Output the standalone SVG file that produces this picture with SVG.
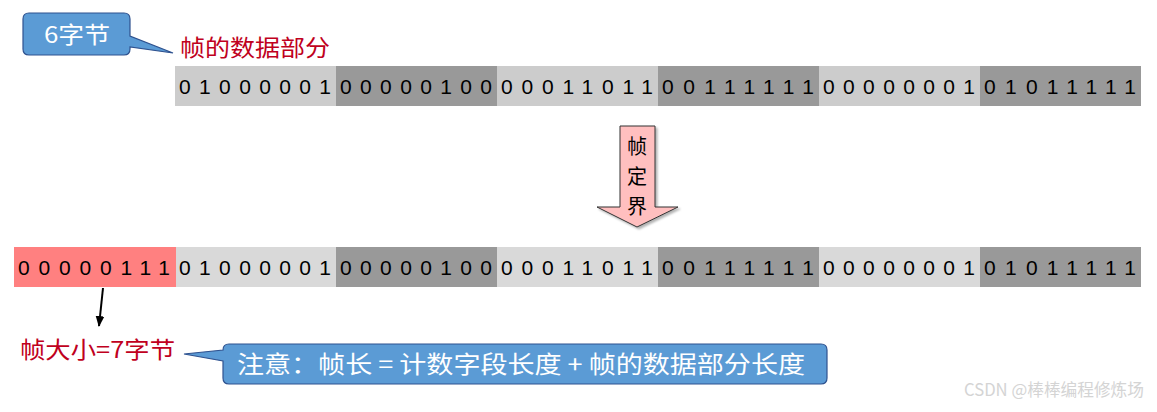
<svg xmlns="http://www.w3.org/2000/svg" width="1157" height="412" viewBox="0 0 1157 412">
<style>
.bits{font-family:"Liberation Sans",Arial,sans-serif;font-size:21px;fill:#000}
.cn{font-family:"Noto Sans CJK SC","Noto Sans",sans-serif}
.red{fill:#c00020;font-size:23px}
.white{fill:#ffffff}
.lt1{fill:#cccccc}
.lt2{fill:#d9d9d9}
.dk{fill:#999999}
.call{fill:#5b9bd5;stroke:#2f528f;stroke-width:1.2}
</style>
<defs>
<marker id="ah" viewBox="0 0 10 10" refX="9" refY="5" markerWidth="11" markerHeight="11" markerUnits="userSpaceOnUse" orient="auto">
<path d="M0,1 L10,5 L0,9 z" fill="#000"/>
</marker>
<filter id="sh" x="-20%" y="-20%" width="140%" height="140%">
<feDropShadow dx="2" dy="2" stdDeviation="1" flood-color="#000" flood-opacity="0.3"/>
</filter>
</defs>

<g id="callout-6bytes">
<path class="call" d="M29,13 H124 Q130,13 130,19 V36 L173,53 L130,47 V49 Q130,55 124,55 H29 Q23,55 23,49 V19 Q23,13 29,13 Z"/>
<text class="cn white" x="77" y="43" font-size="23" text-anchor="middle" textLength="66" lengthAdjust="spacingAndGlyphs">6字节</text>
</g>

<g id="label-data">
<text class="cn red" x="180" y="56" textLength="150" lengthAdjust="spacingAndGlyphs">帧的数据部分</text>
</g>

<g id="top-row">
<rect class="lt1" x="175" y="66" width="161" height="40"/>
<rect class="dk" x="336" y="66" width="161" height="40"/>
<rect class="lt1" x="497" y="66" width="161" height="40"/>
<rect class="dk" x="658" y="66" width="161" height="40"/>
<rect class="lt1" x="819" y="66" width="161" height="40"/>
<rect class="dk" x="980" y="66" width="161" height="40"/>
<text class="bits" x="179" y="94" textLength="152" lengthAdjust="spacing">01000001</text>
<text class="bits" x="340" y="94" textLength="152" lengthAdjust="spacing">00000100</text>
<text class="bits" x="501" y="94" textLength="152" lengthAdjust="spacing">00011011</text>
<text class="bits" x="662" y="94" textLength="152" lengthAdjust="spacing">00111111</text>
<text class="bits" x="823" y="94" textLength="152" lengthAdjust="spacing">00000001</text>
<text class="bits" x="984" y="94" textLength="152" lengthAdjust="spacing">01011111</text>
</g>

<g id="framing-arrow">
<polygon points="620,126 655,126 655,207 678,207 637,227 597,207 620,207" fill="#ffbfbf" stroke="#333" stroke-width="1" filter="url(#sh)"/>
<text class="cn" x="637" y="154" font-size="20" text-anchor="middle" fill="#000">帧</text>
<text class="cn" x="637" y="184" font-size="20" text-anchor="middle" fill="#000">定</text>
<text class="cn" x="637" y="214" font-size="20" text-anchor="middle" fill="#000">界</text>
</g>

<g id="bottom-row">
<rect x="14" y="247" width="162" height="40" fill="#ff8080"/>
<rect class="lt2" x="176" y="247" width="160" height="40"/>
<rect class="dk" x="336" y="247" width="161" height="40"/>
<rect class="lt2" x="497" y="247" width="161" height="40"/>
<rect class="dk" x="658" y="247" width="161" height="40"/>
<rect class="lt2" x="819" y="247" width="161" height="40"/>
<rect class="dk" x="980" y="247" width="161" height="40"/>
<text class="bits" x="18" y="275" textLength="152" lengthAdjust="spacing">00000111</text>
<text class="bits" x="179" y="275" textLength="152" lengthAdjust="spacing">01000001</text>
<text class="bits" x="340" y="275" textLength="152" lengthAdjust="spacing">00000100</text>
<text class="bits" x="501" y="275" textLength="152" lengthAdjust="spacing">00011011</text>
<text class="bits" x="662" y="275" textLength="152" lengthAdjust="spacing">00111111</text>
<text class="bits" x="823" y="275" textLength="152" lengthAdjust="spacing">00000001</text>
<text class="bits" x="984" y="275" textLength="152" lengthAdjust="spacing">01011111</text>
</g>

<g id="connectors">
<line x1="103" y1="288" x2="99" y2="326" stroke="#000" stroke-width="2" marker-end="url(#ah)"/>
</g>

<g id="label-size">
<text class="cn red" x="20" y="358" textLength="155" lengthAdjust="spacingAndGlyphs">帧大小=7字节</text>
</g>

<g id="callout-note">
<path class="call" d="M229,344 H821 Q827,344 827,350 V378 Q827,384 821,384 H229 Q223,384 223,378 V361 L184,354 L223,350 Q223,344 229,344 Z"/>
<text class="cn white" x="237" y="373" font-size="24" textLength="568" lengthAdjust="spacingAndGlyphs">注意：帧长 = 计数字段长度 + 帧的数据部分长度</text>
</g>

<g id="watermark">
<text class="cn" x="964" y="396" font-size="17" fill="#d4d4d4" textLength="180" lengthAdjust="spacingAndGlyphs">CSDN @棒棒编程修炼场</text>
</g>
</svg>
